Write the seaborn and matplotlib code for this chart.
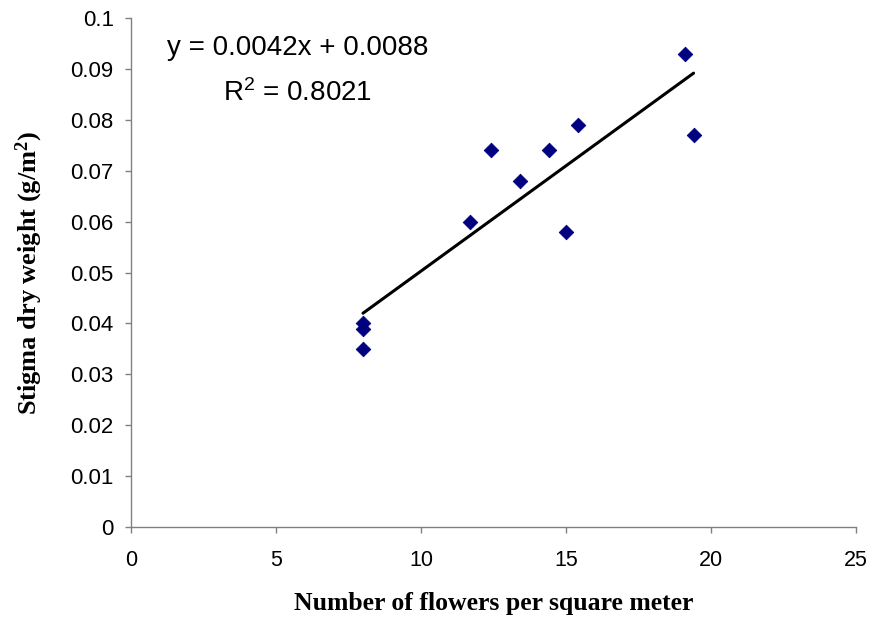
import numpy as np
import pandas as pd
import matplotlib
matplotlib.use("Agg")
import matplotlib.pyplot as plt
import seaborn as sns

# values
flowers = [8.0, 8.0, 8.0, 11.7, 12.4, 13.4, 14.4, 15.0, 15.4, 19.1, 19.4]
stigma = [0.040, 0.039, 0.035, 0.060, 0.074, 0.068, 0.074, 0.058, 0.079, 0.093, 0.077]
x_ticks = [0, 5, 10, 15, 20, 25]
y_ticks = [0, 0.01, 0.02, 0.03, 0.04, 0.05, 0.06, 0.07, 0.08, 0.09, 0.1]
y_tick_labels = ["0", "0.01", "0.02", "0.03", "0.04", "0.05", "0.06",
                 "0.07", "0.08", "0.09", "0.1"]
eq_text = "y = 0.0042x + 0.0088"
r2_text = "R$^2$ = 0.8021"

df = pd.DataFrame({"flowers": flowers, "stigma": stigma})

sns.set_style("white")
plt.rcParams["font.family"] = ["Liberation Sans", "DejaVu Sans"]
plt.rcParams["mathtext.default"] = "regular"
plt.rcParams["text.color"] = "black"
plt.rcParams["axes.labelcolor"] = "black"
plt.rcParams["xtick.labelcolor"] = "black"
plt.rcParams["ytick.labelcolor"] = "black"

fig = plt.figure(figsize=(8.77, 6.18), dpi=100)
ax = fig.add_axes([0.1494, 0.1472, 0.8266, 0.8237])

# trend line from a least-squares fit
coef = np.polyfit(df["flowers"], df["stigma"], 1)
xs = np.array([df["flowers"].min(), df["flowers"].max()])
ax.plot(xs, np.polyval(coef, xs), color="black", lw=2.2, zorder=2)

sns.scatterplot(data=df, x="flowers", y="stigma", marker="D", s=55,
                color="#000080", edgecolor="#000080", ax=ax, zorder=3)

ax.set_xlim(0, 25)
ax.set_ylim(0, 0.1)
ax.set_xticks(x_ticks)
ax.set_xticklabels([str(t) for t in x_ticks])
ax.set_yticks(y_ticks)
ax.set_yticklabels(y_tick_labels)
ax.tick_params(axis="both", direction="out", length=4.5, width=1,
               color="#808080", labelcolor="black", left=True, bottom=True)
ax.tick_params(axis="x", pad=12, labelsize=15.5)
ax.tick_params(axis="y", pad=8, labelsize=16)

for side in ["top", "right"]:
    ax.spines[side].set_visible(False)
for side in ["left", "bottom"]:
    ax.spines[side].set_color("#808080")
    ax.spines[side].set_linewidth(1)

ax.set_xlabel("Number of flowers per square meter", family="Liberation Serif",
              fontweight="bold", fontsize=18.5, labelpad=15, color="black")
ax.set_ylabel("Stigma dry weight (g/m$^2$)", family="Liberation Serif",
              fontweight="bold", fontsize=19, color="black")
ax.yaxis.set_label_coords(-0.118, 0.5)

ax.text(0.230, 0.941, eq_text, transform=ax.transAxes, ha="center",
        va="center", fontsize=20, color="black")
ax.text(0.230, 0.853, r2_text, transform=ax.transAxes, ha="center",
        va="center", fontsize=20, color="black")

plt.savefig("out.png", dpi=100)
